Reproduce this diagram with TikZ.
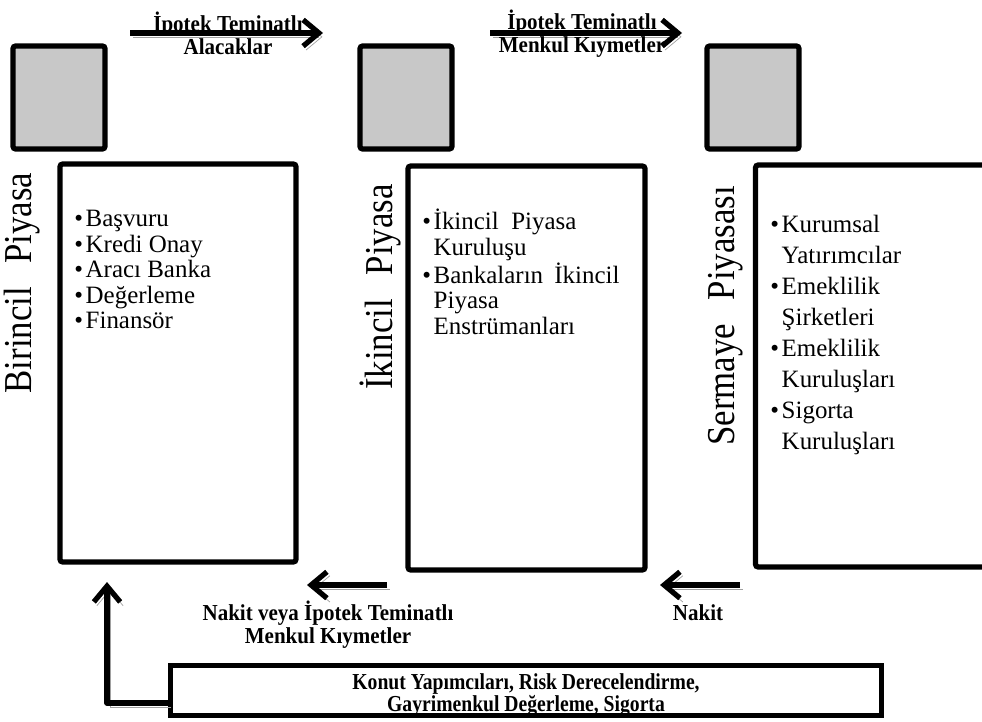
\documentclass[tikz,border=0pt]{standalone}
\usepackage{fontspec}
\setmainfont{Liberation Serif}
\newfontfamily\condfont[FakeStretch=0.88]{Liberation Serif}
\newfontfamily\condbold[FakeStretch=0.92]{Liberation Serif Bold}
\newfontfamily\narrbold[FakeStretch=0.86]{Liberation Serif Bold}
\usetikzlibrary{arrows.meta}
\definecolor{sqgray}{RGB}{200,200,200}
\definecolor{shgray}{RGB}{160,160,160}
\newcommand{\bul}{\textbullet\hspace{1.5pt}}
\newcommand{\ind}{\phantom{\bul}}
\tikzset{%
    sqr/.style={draw, line width=3pt, fill=sqgray, rounded corners=1.5pt, minimum width=1.84cm, minimum height=2.06cm},
    blok/.style={draw, line width=3pt, rounded corners=1.5pt},
    lst/.style={inner sep=0pt, align=left, anchor=north west, font=\fontsize{14.2}{14.5}\selectfont},
    side/.style={rotate=90, inner sep=0pt, font=\condfont\fontsize{22.5}{26}\selectfont},
    lbl/.style={inner sep=0pt, align=center, font=\condbold\fontsize{13}{13}\selectfont},
    arw/.style={line width=3pt, -{Straight Barb[length=9pt,width=15pt]},
        preaction={draw=shgray, transform canvas={shift={(1.7pt,-2.2pt)}}}},
}

\begin{document}
\begin{tikzpicture}[x=0.02cm, y=-0.02cm]
    \useasboundingbox (0,0) rectangle (982,722);
    % gray squares
    \node[sqr] (sq1) at (59,97.5) {};
    \node[sqr] (sq2) at (406,97.5) {};
    \node[sqr] (sq3) at (753,97.5) {};
    % market boxes
    \node[blok, minimum width=4.72cm, minimum height=7.96cm] (box1) at (178,363) {};
    \node[blok, minimum width=4.74cm, minimum height=8.08cm] (box2) at (526.5,368) {};
    \node[blok, minimum width=4.9cm, minimum height=8.04cm] (box3) at (878,366) {};
    \node[side] (p1) at (22,283) {Birincil\hspace{0.6em}Piyasa};
    \node[side] (p2) at (380,287) {İkincil\hspace{0.6em}Piyasa};
    \node[side] (p3) at (726,316) {Sermaye\hspace{0.6em}Piyasası};
    \node[lst] (t1) at (74,210) {\bul Başvuru\\ \bul Kredi Onay\\ \bul Aracı Banka\\ \bul Değerleme\\ \bul Finansör};
    \node[lst] (t2) at (422,209) {\bul İkincil\hspace{0.5em}Piyasa\\ \ind Kuruluşu\\ \bul Bankaların\hspace{0.45em}İkincil\\ \ind Piyasa\\ \ind Enstrümanları};
    \node[lst, font=\fontsize{14.2}{17.6}\selectfont] (t3) at (770,215) {\bul Kurumsal\\ \ind Yatırımcılar\\ \bul Emeklilik\\ \ind Şirketleri\\ \bul Emeklilik\\ \ind Kuruluşları\\ \bul Sigorta\\ \ind Kuruluşları};
    % flows
    \coordinate (a1s) at (130,33);  \coordinate (a1e) at (323,33);
    \coordinate (a2s) at (490,33);  \coordinate (a2e) at (682,33);
    \coordinate (a3s) at (387,585); \coordinate (a3e) at (307,585);
    \coordinate (a4s) at (740,585); \coordinate (a4e) at (660,585);
    \draw[arw] (a1s) -- (a1e);
    \draw[arw] (a2s) -- (a2e);
    \draw[arw] (a3s) -- (a3e);
    \draw[arw] (a4s) -- (a4e);
    \node[lbl] (l1) at (228,33) {İpotek Teminatlı\\Alacaklar};
    \node[lbl] (l2) at (582,34) {İpotek Teminatlı\\Menkul Kıymetler};
    \node[lbl] (l3) at (328,625) {Nakit veya İpotek Teminatlı\\Menkul Kıymetler};
    \node[lbl] (l4) at (698,613) {Nakit};
    % supporting actors
    \node[blok, line width=2.6pt, rounded corners=0pt, minimum width=14.22cm, minimum height=1.0cm] (ext) at (526,690.5) {};
    \node[lbl, font=\narrbold\fontsize{13}{12.5}\selectfont] (extxt) at (526,695)
        {Konut Yapımcıları, Risk Derecelendirme,\\Gayrimenkul Değerleme, Sigorta};
    \coordinate (up) at (107,582);
    \draw[arw, line join=round] ([yshift=-0.25cm]ext.west) -| (up);
\end{tikzpicture}
\end{document}
